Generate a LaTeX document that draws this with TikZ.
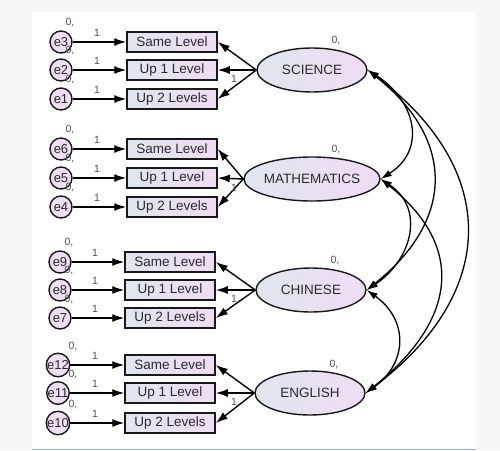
\documentclass[tikz,border=0pt]{standalone}
\usepackage{fontspec}
\setmainfont{Liberation Sans}
\usetikzlibrary{arrows.meta,shapes.geometric}
\definecolor{pagebg}{HTML}{F8F8F8}
\definecolor{rulebl}{HTML}{93B3D3}
\definecolor{shL}{HTML}{DFE6EE}
\definecolor{shR}{HTML}{F0DCF4}
\definecolor{errfill}{HTML}{EEDFF3}
\definecolor{txt}{HTML}{2A2A2A}
\definecolor{smalltxt}{HTML}{505050}
\tikzset{
  obs/.style={draw=black!90, line width=1.5pt, left color=shL, right color=shR,
    minimum width=90pt, minimum height=20pt, inner sep=0pt,
    font=\fontsize{13.5}{15}\selectfont, text=txt},
  lat/.style={ellipse, draw=black!90, line width=1.4pt, left color=shL, right color=shR,
    minimum width=110pt, minimum height=44pt, inner sep=0pt,
    font=\fontsize{13.5}{15}\selectfont, text=txt},
  err/.style={circle, draw=black!90, line width=1.4pt, fill=errfill,
    minimum size=22pt, inner sep=0pt, font=\fontsize{13}{15}\selectfont, text=txt},
  small/.style={font=\fontsize{10.5}{12}\selectfont, text=smalltxt, inner sep=0pt},
  arr/.style={line width=1.4pt, -{Latex[length=12pt,width=8pt]}},
  cov/.style={line width=1.3pt, {Latex[length=11pt,width=7pt]}-{Latex[length=11pt,width=7pt]}}
}
\begin{document}
\begin{tikzpicture}[x=1pt,y=-1pt]
\fill[pagebg] (0,0) rectangle (500,450);
\fill[white] (32,12) rectangle (476,449);
\draw[rulebl, line width=1pt] (32,449) -- (476,449);
\useasboundingbox (0,0) rectangle (500,450);
\foreach \g/\lname/\ly/\lx/\bx/\ex/\ea/\eb/\ec/\ya/\yb/\yc/\zx in {
  1/SCIENCE/70/312/172/61/e3/e2/e1/42/70/99/70,
  2/MATHEMATICS/179/312/172/61/e6/e5/e4/149/178/207/70,
  3/CHINESE/290/311/170/60/e9/e8/e7/262/290/318/69,
  4/ENGLISH/393/310/170/58/e12/e11/e10/365/393/423/73}{
  \node[lat] (L\g) at (\lx,\ly) {\lname};
  \node[small] (v\g) at ({\lx+24},{\ly-29}) {0,};
  \foreach \r/\yy/\en/\bt in {1/\ya/\ea/Same Level, 2/\yb/\eb/Up 1 Level, 3/\yc/\ec/Up 2 Levels}{
    \node[small] (z\g\r) at (\zx,{\yy-19}) {0,};
    \node[err] (E\g\r) at (\ex,\yy) {\en};
    \node[obs] (B\g\r) at (\bx,\yy) {\bt};
    \draw[arr] (E\g\r) -- (B\g\r);
    \node[small] (w\g\r) at ({\bx-75},{\yy-9}) {1};
    \draw[arr] (L\g.west) -- (B\g\r.east);
  }
  \node[small] (u\g) at (234,{\ly+9}) {1};
}
\draw[cov] (L1.east) .. controls +(47,30) and +(47,-30) .. (L2.east);
\draw[cov] (L1.east) .. controls +(88,70) and +(88,-70) .. (L3.east);
\draw[cov] (L1.east) .. controls +(133,100) and +(133,-100) .. (L4.east);
\draw[cov] (L2.east) .. controls +(45,30) and +(45,-30) .. (L3.east);
\draw[cov] (L2.east) .. controls +(88,70) and +(88,-70) .. (L4.east);
\draw[cov] (L3.east) .. controls +(42,30) and +(42,-30) .. (L4.east);
\end{tikzpicture}
\end{document}
